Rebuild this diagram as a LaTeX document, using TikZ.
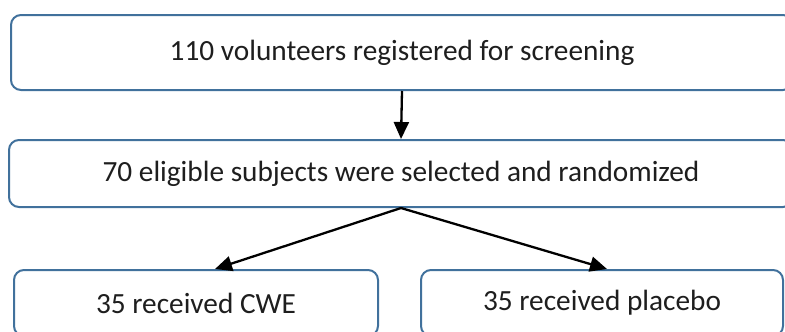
\documentclass[tikz,border=0pt]{standalone}
\usepackage{fontspec}
\setmainfont{Carlito}
\usetikzlibrary{arrows.meta,calc}
\definecolor{boxblue}{RGB}{65,113,156}
\definecolor{txt}{RGB}{30,30,30}
\begin{document}
\begin{tikzpicture}[x=1pt,y=-1pt,
  flowbox/.style={draw=boxblue,line width=2pt,rounded corners=10pt,fill=white,
    text=txt,font=\fontsize{29.3}{34}\selectfont,inner sep=0pt},
  arr/.style={draw=black,line width=2.3pt,-{Triangle[length=17pt,width=15pt]}}]
\useasboundingbox (0,0) rectangle (785,332);
\clip (0,0) rectangle (785,332);
\node[flowbox,minimum width=782pt,minimum height=75pt] (top) at (402,52.5) {110 volunteers registered for screening};
\node[flowbox,minimum width=784pt,minimum height=67pt] (mid) at (401,173.5) {70 eligible subjects were selected and randomized};
\node[flowbox,minimum width=364pt,minimum height=66pt] (cwe) at (196,303) {35 received CWE};
\node[flowbox,minimum width=362pt,minimum height=66pt] (plc) at (602,303) {35 received placebo};
\draw[arr] (top.south) -- (mid.north);
\draw[arr] (mid.south) -- ($(cwe.north)+(19,0)$);
\draw[arr] (mid.south) -- ($(plc.north)+(5,0)$);
\end{tikzpicture}
\end{document}
